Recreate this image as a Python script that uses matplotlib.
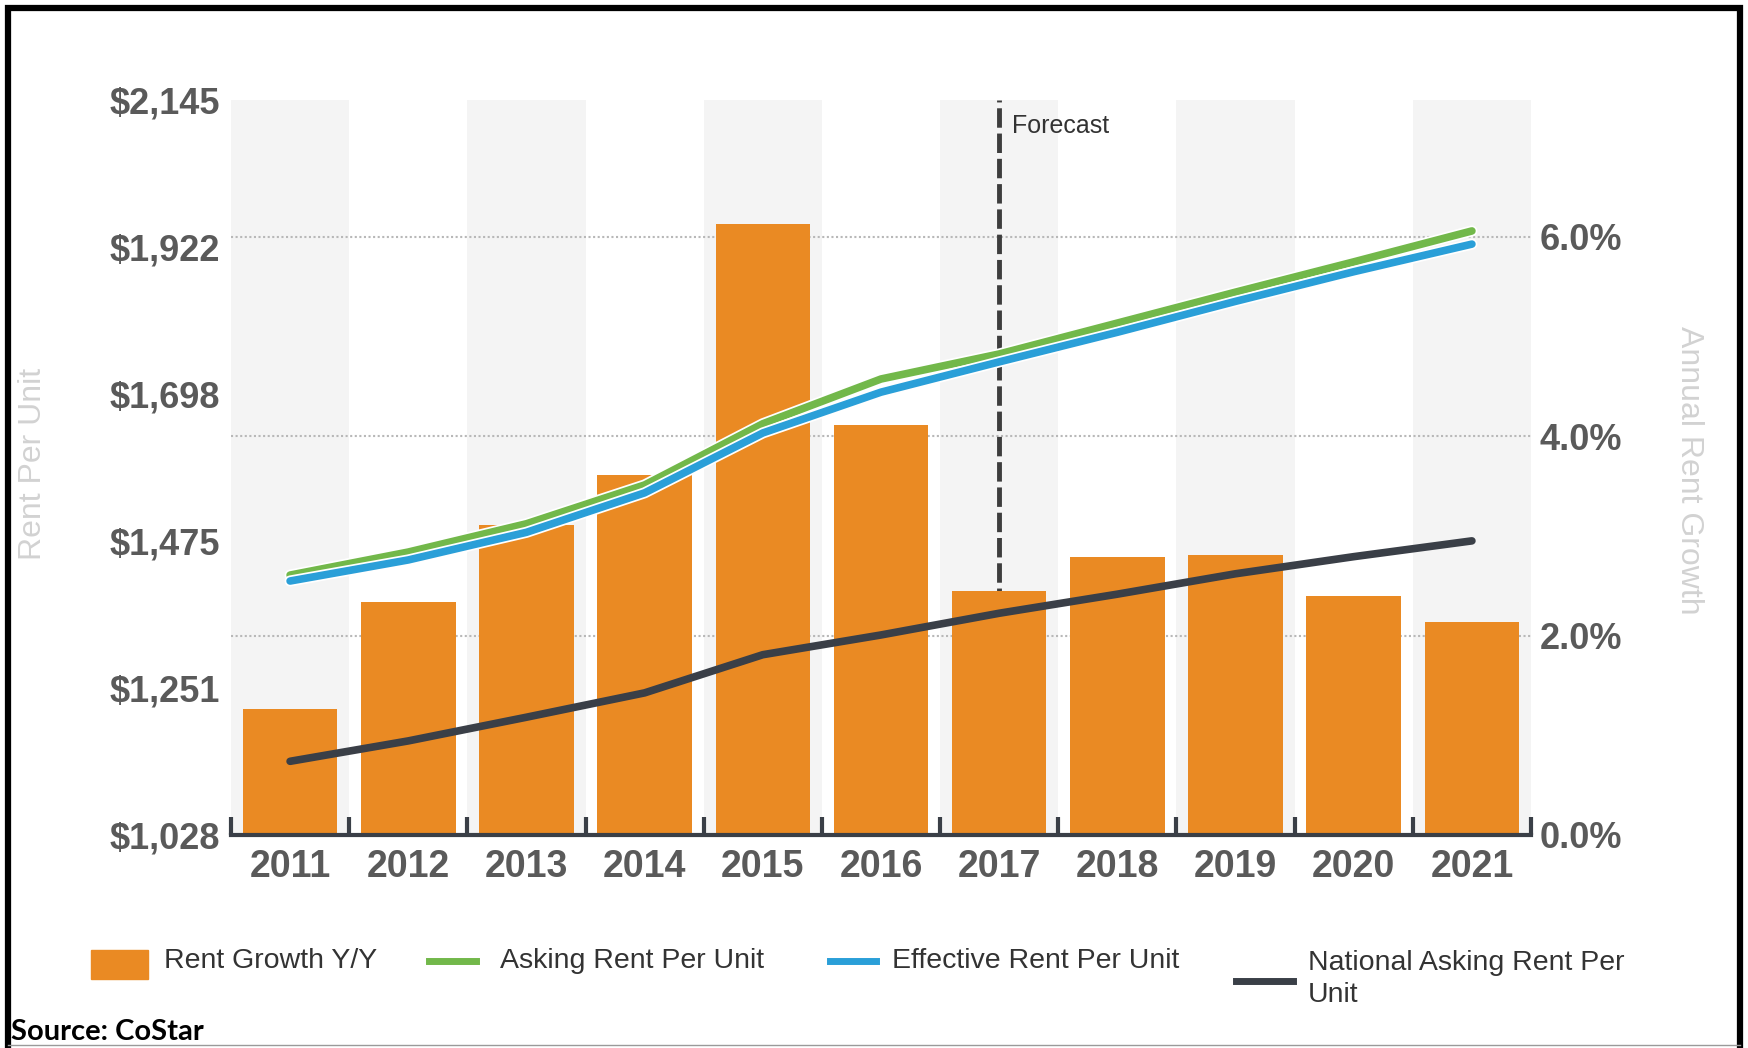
import matplotlib
matplotlib.use("Agg")
import matplotlib.pyplot as plt
from matplotlib.lines import Line2D
from matplotlib.patches import Rectangle
import matplotlib.patheffects as pe
import numpy as np

years = ["2011", "2012", "2013", "2014", "2015", "2016", "2017", "2018", "2019", "2020", "2021"]
rent_growth = [1.26, 2.34, 3.11, 3.61, 6.13, 4.11, 2.45, 2.79, 2.81, 2.40, 2.14]
asking_rent = [1423, 1458, 1501, 1560, 1653, 1721, 1759, 1806, 1853, 1899, 1946]
effective_rent = [1414, 1446, 1488, 1548, 1639, 1701, 1747, 1792, 1839, 1884, 1926]
national_rent = [1140, 1171, 1207, 1244, 1302, 1332, 1365, 1394, 1425, 1451, 1475]

rent_ticks = [1028, 1251, 1475, 1698, 1922, 2145]
rent_tick_labels = ["$1,028", "$1,251", "$1,475", "$1,698", "$1,922", "$2,145"]
growth_ticks = [0, 2, 4, 6]
growth_tick_labels = ["0.0%", "2.0%", "4.0%", "6.0%"]
forecast_year = "2017"

ORANGE = "#ea8a23"
GREEN = "#72b84a"
BLUE = "#2a9fd8"
DARK = "#3a3f47"
LABEL = "#5a5a5a"

plt.rcParams["font.family"] = ["Liberation Sans", "DejaVu Sans"]

W, H = 1748, 1048
fig = plt.figure(figsize=(W / 100, H / 100), dpi=100)


def fx(px):
    return px / W


def fy(py):
    return 1 - py / H


# percent axis first (bars, bands, grid) so the rent lines sit on top
ax = fig.add_axes([fx(231), fy(835), (1531 - 231) / W, (835 - 100) / H])
x = np.arange(len(years))

for i in range(0, len(years), 2):
    ax.axvspan(i - 0.5, i + 0.5, color="#f4f4f4", lw=0, zorder=0)
for g in growth_ticks[1:]:
    ax.axhline(g, color="#b8b8b8", lw=1.5, ls=(0, (1, 1.2)), zorder=1)

fi = years.index(forecast_year)
ax.axvline(fi, color="#3d3d3d", lw=3.5, ls=(0, (4, 1.2)), zorder=1.5)
ax.text(fi + 0.11, 7.11, "Forecast", fontsize=18, color="#333333", va="center", ha="left")

ax.bar(x, rent_growth, width=0.8, color=ORANGE, zorder=2)
ax.set_xlim(-0.5, len(years) - 0.5)
ax.set_ylim(0, 7.37)

ax2 = ax.twinx()
ax2.set_ylim(rent_ticks[0], rent_ticks[-1])
halo = [pe.Stroke(linewidth=8, foreground="white"), pe.Normal()]
ax2.plot(x, national_rent, color=DARK, lw=5.5, solid_capstyle="round", zorder=3)
ax2.plot(x, asking_rent, color=GREEN, lw=5.5, solid_capstyle="round", path_effects=halo, zorder=3)
ax2.plot(x, effective_rent, color=BLUE, lw=5.5, solid_capstyle="round", path_effects=halo, zorder=4)

ax.yaxis.tick_right()
ax2.yaxis.tick_left()
ax.set_yticks(growth_ticks, growth_tick_labels)
ax2.set_yticks(rent_ticks, rent_tick_labels)
ax.tick_params(axis="y", length=0, pad=6, labelsize=26, labelcolor=LABEL)
ax2.tick_params(axis="y", length=0, pad=8, labelsize=26, labelcolor=LABEL)
for lab in ax.get_yticklabels() + ax2.get_yticklabels():
    lab.set_fontweight("bold")

ax.set_xticks(x, years)
ax.set_xticks(np.arange(-0.5, len(years), 1), minor=True)
ax.tick_params(axis="x", which="major", length=0, pad=10, labelsize=27, labelcolor=LABEL)
ax.tick_params(axis="x", which="minor", direction="in", length=13, width=3, color=DARK)
for lab in ax.get_xticklabels():
    lab.set_fontweight("bold")

for s in ["top", "left", "right"]:
    ax.spines[s].set_visible(False)
ax.spines["bottom"].set_color(DARK)
ax.spines["bottom"].set_linewidth(3)
for s in ax2.spines.values():
    s.set_visible(False)

fig.text(fx(33), fy(464), "Rent Per Unit", rotation=90, ha="center", va="center",
         color="#d2d2d2", fontsize=23)
fig.text(fx(1689), fy(470), "Annual Rent Growth", rotation=270, ha="center", va="center",
         color="#d2d2d2", fontsize=23)

# legend row
ly = 961
fig.add_artist(Rectangle((fx(91), fy(979)), (148 - 91) / W, 29 / H, color=ORANGE,
                         transform=fig.transFigure))
fig.text(fx(164), fy(ly), "Rent Growth Y/Y", fontsize=20.5, color="#333333", va="center")
fig.add_artist(Line2D([fx(429), fx(476)], [fy(ly), fy(ly)], color=GREEN, lw=5,
                      transform=fig.transFigure))
fig.text(fx(500), fy(ly), "Asking Rent Per Unit", fontsize=20.5, color="#333333", va="center")
fig.add_artist(Line2D([fx(830), fx(876)], [fy(ly), fy(ly)], color=BLUE, lw=5,
                      transform=fig.transFigure))
fig.text(fx(892), fy(ly), "Effective Rent Per Unit", fontsize=20.5, color="#333333", va="center")
fig.add_artist(Line2D([fx(1236), fx(1293)], [fy(981), fy(981)], color=DARK, lw=5,
                      transform=fig.transFigure))
fig.text(fx(1308), fy(979), "National Asking Rent Per\nUnit", fontsize=20.5, color="#333333",
         va="center", linespacing=1.25)

fig.text(fx(11), fy(1032), "Source: CoStar", fontsize=21, fontweight="bold", color="black",
         va="center", family=["Lato", "DejaVu Sans"])

# outer frame
fig.add_artist(Line2D([fx(8), fx(8), fx(1740), fx(1740)], [fy(1048), fy(8), fy(8), fy(1048)],
                      color="black", lw=4.5, transform=fig.transFigure, solid_joinstyle="miter"))
fig.add_artist(Line2D([fx(8), fx(1740)], [fy(1045), fy(1045)], color="#9a9a9a", lw=1,
                      transform=fig.transFigure))

fig.savefig("out.png", dpi=100)
